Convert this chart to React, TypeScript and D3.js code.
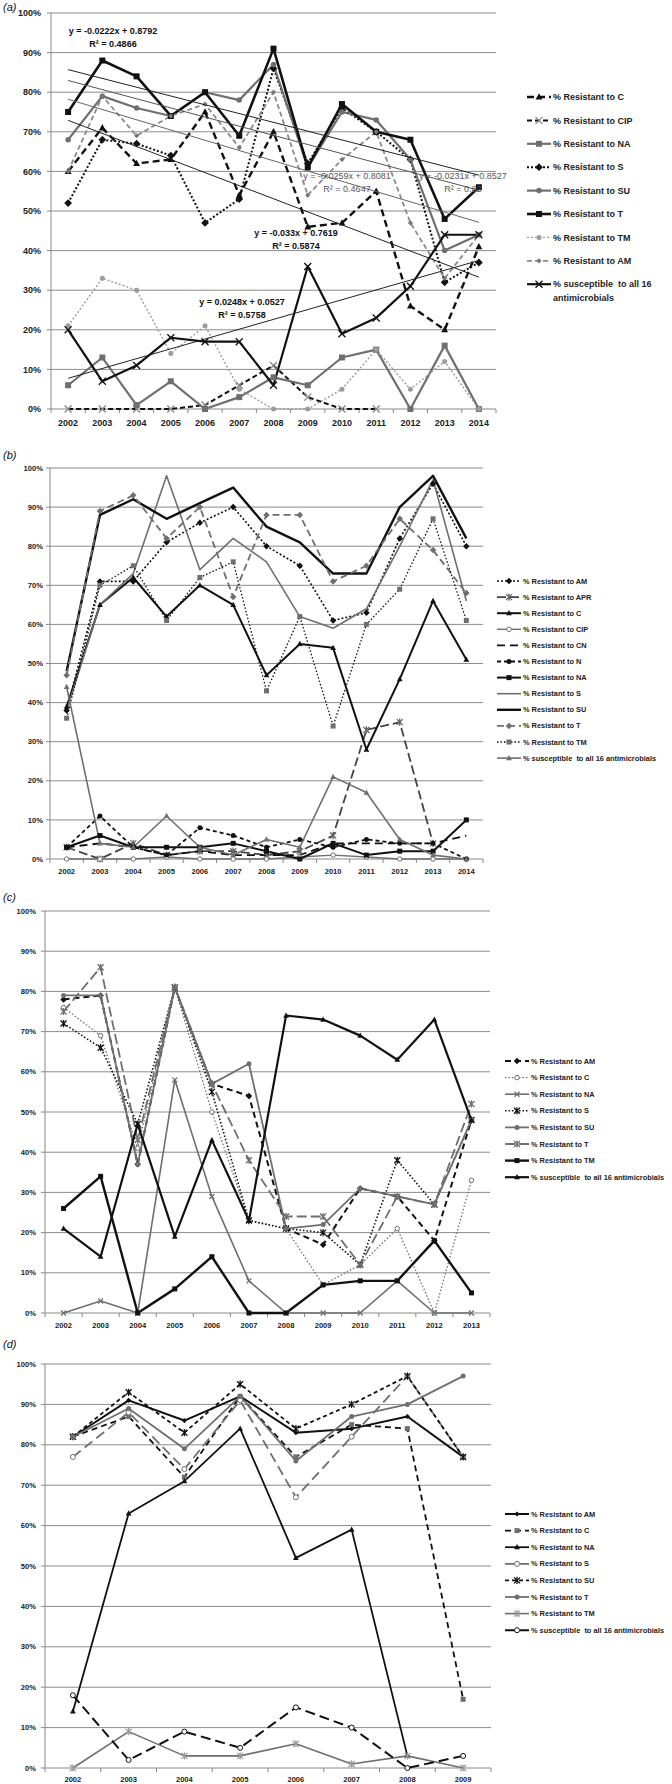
import React, { useEffect } from 'react'
import * as d3 from 'd3'

type Val = number | null
type Kind = 'square' | 'triangle' | 'diamond' | 'circle' | 'ring' | 'x' | 'asterisk' | 'none'

interface Style {
  color: string
  width: number
  dash?: string
  marker: Kind
  mFill: string
  mSize: number
}

interface Series {
  label: string
  values: Val[]
  style: Style
}

interface Layout {
  tag: string
  tagY: number
  left: number
  right: number
  top: number
  bottom: number
  yLabelX: number
  xLabelY: number
  font: number
  legendX: number
  legendLen: number
  legendY: number
  legendStep: number
  legendFont: number
  wrapAt?: number
}

interface Trend {
  m: number
  b: number
  color: string
}

interface Note {
  lines: string[]
  x: number
  y: number
  color: string
  weight: number
}

// ---------- panel (a) ----------
const yearsA = ['2002', '2003', '2004', '2005', '2006', '2007', '2008', '2009', '2010', '2011', '2012', '2013', '2014']
const labelsA = [
  '% Resistant to C', '% Resistant to CIP', '% Resistant to NA', '% Resistant to S', '% Resistant to SU',
  '% Resistant to T', '% Resistant to TM', '% Resistant to AM', '% susceptible  to all 16 antimicrobials'
]
const aResC = [60, 71, 62, 63, 75, 54, 70, 46, 47, 55, 26, 20, 41]
const aResCIP: Val[] = [0, 0, 0, 0, 1, 6, 11, 3, 0, 0, null, null, null]
const aResNA = [6, 13, 1, 7, 0, 3, 8, 6, 13, 15, 0, 16, 0]
const aResS = [52, 68, 67, 64, 47, 53, 86, 62, 76, 70, 63, 32, 37]
const aResSU = [68, 79, 76, 74, 80, 78, 87, 61, 75, 73, 63, 40, 44]
const aResT = [75, 88, 84, 74, 80, 69, 91, 61, 77, 70, 68, 48, 56]
const aResTM = [21, 33, 30, 14, 21, 5, 0, 0, 5, 15, 5, 12, 0]
const aResAM = [60, 79, 69, 74, 77, 66, 80, 54, 63, 70, 47, 33, 44]
const aSusc = [20, 7, 11, 18, 17, 17, 6, 36, 19, 23, 31, 44, 44]

// trend lines: slope, intercept (x = 1..13)
const trendSlopesA = [-0.0222, -0.0231, -0.0259, -0.033, 0.0248]
const trendInterceptsA = [0.8792, 0.8527, 0.8081, 0.7619, 0.0527]
const trendEqA = ['y = -0.0222x + 0.8792', 'y = -0.0231x + 0.8527', 'y = -0.0259x + 0.8081', 'y = -0.033x + 0.7619', 'y = 0.0248x + 0.0527']
const trendR2A = ['R² = 0.4866', 'R² = 0.62', 'R² = 0.4647', 'R² = 0.5874', 'R² = 0.5758']

// ---------- panel (b) ----------
const yearsB = yearsA
const labelsB = [
  '% Resistant to AM', '% Resistant to APR', '% Resistant to C', '% Resistant to CIP', '% Resistant to CN',
  '% Resistant to N', '% Resistant to NA', '% Resistant to S', '% Resistant to SU', '% Resistant to T',
  '% Resistant to TM', '% susceptible  to all 16 antimicrobials'
]
const bResAM = [38, 71, 71, 81, 86, 90, 80, 75, 61, 63, 82, 96, 80]
const bResAPR: Val[] = [3, 0, 4, 1, 2, 2, 1, 2, 6, 33, 35, 4, null]
const bResC = [39, 65, 72, 62, 70, 65, 47, 55, 54, 28, 46, 66, 51]
const bResCIP = [0, 0, 0, 0.5, 0, 0, 0, 0.5, 1, 0.5, 0, 0, 0]
const bResCN = [3, 4, 3, 1, 2, 1, 1, 1, 4, 4, 4, 4, 6]
const bResN = [3, 11, 3, 1, 8, 6, 3, 5, 3, 5, 4, 4, 0]
const bResNA = [3, 6, 3, 3, 3, 4, 2, 0, 4, 1, 2, 2, 10]
const bResS = [38, 65, 73, 98, 74, 82, 76, 62, 59, 64, 80, 97, 66]
const bResSU = [48, 88, 92, 87, 91, 95, 85, 81, 73, 73, 90, 98, 82]
const bResT = [47, 89, 93, 82, 90, 67, 88, 88, 71, 75, 87, 79, 68]
const bResTM = [36, 70, 75, 61, 72, 76, 43, 62, 34, 60, 69, 87, 61]
const bSusc = [44, 4, 3, 11, 3, 1, 5, 3, 21, 17, 5, 1, 0]

// ---------- panel (c) ----------
const yearsC = ['2002', '2003', '2004', '2005', '2006', '2007', '2008', '2009', '2010', '2011', '2012', '2013']
const labelsC = [
  '% Resistant to AM', '% Resistant to C', '% Resistant to NA', '% Resistant to S', '% Resistant to SU',
  '% Resistant to T', '% Resistant to TM', '% susceptible  to all 16 antimicrobials'
]
const cResAM = [78, 79, 37, 81, 57, 54, 21, 17, 31, 29, 18, 48]
const cResC = [76, 69, 41, 81, 50, 23, 21, 7, 12, 21, 0, 33]
const cResNA = [0, 3, 0, 58, 29, 8, 0, 0, 0, 8, 0, 0]
const cResS = [72, 66, 47, 81, 55, 23, 21, 20, 12, 38, 27, 48]
const cResSU = [79, 79, 37, 81, 57, 62, 21, 22, 31, 29, 27, 48]
const cResT = [75, 86, 43, 81, 57, 38, 24, 24, 12, 29, 27, 52]
const cResTM = [26, 34, 0, 6, 14, 0, 0, 7, 8, 8, 18, 5]
const cSusc = [21, 14, 47, 19, 43, 23, 74, 73, 69, 63, 73, 48]

// ---------- panel (d) ----------
const yearsD = ['2002', '2003', '2004', '2005', '2006', '2007', '2008', '2009']
const labelsD = [
  '% Resistant to AM', '% Resistant to C', '% Resistant to NA', '% Resistant to S', '% Resistant to SU',
  '% Resistant to T', '% Resistant to TM', '% susceptible  to all 16 antimicrobials'
]
const dResAM = [82, 91, 86, 92, 83, 84, 87, 77]
const dResC = [82, 87, 72, 92, 77, 85, 84, 17]
const dResNA: Val[] = [14, 63, 71, 84, 52, 59, 3, null]
const dResS = [77, 88, 74, 91, 67, 82, 97, 77]
const dResSU = [82, 93, 83, 95, 84, 90, 97, 77]
const dResT = [82, 89, 79, 92, 76, 87, 90, 97]
const dResTM = [0, 9, 3, 3, 6, 1, 3, 0]
const dSusc = [18, 2, 9, 5, 15, 10, 0, 3]

const yTicks = [0, 10, 20, 30, 40, 50, 60, 70, 80, 90, 100]

const FONT = '"Liberation Sans", Arial, sans-serif'
const BLACK = '#111'
const GRAY = '#6f6f6f'
const LIGHT = '#9c9c9c'

const st = (color: string, width: number, dash: string | undefined, marker: Kind, mFill: string, mSize: number): Style =>
  ({ color, width, dash, marker, mFill, mSize })

const seriesA: Series[] = [
  { label: labelsA[0], values: aResC, style: st(BLACK, 2.4, '7,4', 'triangle', BLACK, 6) },
  { label: labelsA[1], values: aResCIP, style: st(BLACK, 2, '5,3', 'x', '#888', 7) },
  { label: labelsA[2], values: aResNA, style: st(GRAY, 2.2, undefined, 'square', GRAY, 6) },
  { label: labelsA[3], values: aResS, style: st(BLACK, 2, '2,2', 'diamond', BLACK, 6) },
  { label: labelsA[4], values: aResSU, style: st(GRAY, 2.2, undefined, 'circle', GRAY, 5.5) },
  { label: labelsA[5], values: aResT, style: st(BLACK, 2.6, undefined, 'square', BLACK, 6) },
  { label: labelsA[6], values: aResTM, style: st(LIGHT, 1.4, '2,2', 'circle', LIGHT, 5) },
  { label: labelsA[7], values: aResAM, style: st('#8a8a8a', 1.8, '5,3', 'diamond', '#777', 4) },
  { label: labelsA[8], values: aSusc, style: st(BLACK, 2.2, undefined, 'x', BLACK, 7) }
]

const seriesB: Series[] = [
  { label: labelsB[0], values: bResAM, style: st(BLACK, 1.6, '2,2', 'diamond', BLACK, 5) },
  { label: labelsB[1], values: bResAPR, style: st('#444', 1.8, '9,4', 'asterisk', '#666', 6) },
  { label: labelsB[2], values: bResC, style: st(BLACK, 2, undefined, 'triangle', BLACK, 5) },
  { label: labelsB[3], values: bResCIP, style: st(GRAY, 1.4, undefined, 'ring', GRAY, 4.5) },
  { label: labelsB[4], values: bResCN, style: st(BLACK, 1.8, '8,5', 'none', BLACK, 0) },
  { label: labelsB[5], values: bResN, style: st(BLACK, 1.8, '4,3', 'circle', BLACK, 5) },
  { label: labelsB[6], values: bResNA, style: st(BLACK, 2, undefined, 'square', BLACK, 5) },
  { label: labelsB[7], values: bResS, style: st(GRAY, 1.6, undefined, 'none', GRAY, 0) },
  { label: labelsB[8], values: bResSU, style: st(BLACK, 2.4, undefined, 'none', BLACK, 0) },
  { label: labelsB[9], values: bResT, style: st(GRAY, 1.8, '7,4', 'diamond', GRAY, 5) },
  { label: labelsB[10], values: bResTM, style: st(BLACK, 1.3, '1.5,2', 'square', GRAY, 5) },
  { label: labelsB[11], values: bSusc, style: st(GRAY, 1.6, undefined, 'triangle', GRAY, 5) }
]

const seriesC: Series[] = [
  { label: labelsC[0], values: cResAM, style: st(BLACK, 2, '6,4', 'diamond', BLACK, 5) },
  { label: labelsC[1], values: cResC, style: st(GRAY, 1.3, '1.5,2', 'ring', GRAY, 4.5) },
  { label: labelsC[2], values: cResNA, style: st(GRAY, 1.6, undefined, 'x', GRAY, 5) },
  { label: labelsC[3], values: cResS, style: st(BLACK, 1.6, '1.5,2', 'asterisk', BLACK, 6) },
  { label: labelsC[4], values: cResSU, style: st(GRAY, 1.8, undefined, 'circle', GRAY, 5) },
  { label: labelsC[5], values: cResT, style: st(GRAY, 1.8, '10,4', 'asterisk', GRAY, 6) },
  { label: labelsC[6], values: cResTM, style: st(BLACK, 2.4, undefined, 'square', BLACK, 5) },
  { label: labelsC[7], values: cSusc, style: st(BLACK, 2.2, undefined, 'triangle', BLACK, 5) }
]

const seriesD: Series[] = [
  { label: labelsD[0], values: dResAM, style: st(BLACK, 2, undefined, 'diamond', BLACK, 4) },
  { label: labelsD[1], values: dResC, style: st(BLACK, 1.8, '6,4', 'square', GRAY, 5) },
  { label: labelsD[2], values: dResNA, style: st(BLACK, 1.8, undefined, 'triangle', BLACK, 5) },
  { label: labelsD[3], values: dResS, style: st(GRAY, 1.8, '10,5', 'ring', GRAY, 5) },
  { label: labelsD[4], values: dResSU, style: st(BLACK, 1.8, '4,3', 'asterisk', BLACK, 6) },
  { label: labelsD[5], values: dResT, style: st(GRAY, 1.8, undefined, 'circle', GRAY, 5) },
  { label: labelsD[6], values: dResTM, style: st(GRAY, 1.6, undefined, 'asterisk', LIGHT, 6) },
  { label: labelsD[7], values: dSusc, style: st(BLACK, 2, '10,5', 'ring', BLACK, 5) }
]

const trendColorsA = ['#222', '#555', '#666', '#222', '#222']
const trendsA: Trend[] = trendSlopesA.map((m, i) => ({ m, b: trendInterceptsA[i], color: trendColorsA[i] }))

const notesA: Note[] = [
  { lines: [trendEqA[0], trendR2A[0]], x: 113, y: 31, color: BLACK, weight: 700 },
  { lines: [trendEqA[1], trendR2A[1]], x: 463, y: 176, color: '#555', weight: 400 },
  { lines: [trendEqA[2], trendR2A[2]], x: 347, y: 176, color: '#555', weight: 400 },
  { lines: [trendEqA[3], trendR2A[3]], x: 296, y: 233, color: BLACK, weight: 700 },
  { lines: [trendEqA[4], trendR2A[4]], x: 242, y: 302, color: BLACK, weight: 700 }
]

const layoutA: Layout = {
  tag: 'a', tagY: 11, left: 51, right: 496, top: 13, bottom: 409, yLabelX: 41, xLabelY: 423, font: 9,
  legendX: 527, legendLen: 24, legendY: 97, legendStep: 23.4, legendFont: 9, wrapAt: 26
}
const layoutB: Layout = {
  tag: 'b', tagY: 459, left: 50, right: 483, top: 468, bottom: 859, yLabelX: 43, xLabelY: 871, font: 7.6,
  legendX: 497, legendLen: 24, legendY: 581, legendStep: 16.1, legendFont: 7.4
}
const layoutC: Layout = {
  tag: 'c', tagY: 901, left: 45, right: 490, top: 911, bottom: 1313, yLabelX: 36, xLabelY: 1325, font: 7.6,
  legendX: 505, legendLen: 24, legendY: 1061, legendStep: 16.6, legendFont: 7.4
}
const layoutD: Layout = {
  tag: 'd', tagY: 1348, left: 45, right: 491, top: 1364, bottom: 1768, yLabelX: 36, xLabelY: 1779, font: 7.6,
  legendX: 505, legendLen: 24, legendY: 1514, legendStep: 16.6, legendFont: 7.4
}

function Mark ({ kind, x, y, size, fill }: { kind: Kind, x: number, y: number, size: number, fill: string }) {
  const h = size / 2
  switch (kind) {
    case 'square':
      return <rect x={x - h} y={y - h} width={size} height={size} fill={fill} />
    case 'triangle':
      return <path d={`M${x},${y - h * 1.25}L${x + h * 1.15},${y + h * 0.85}L${x - h * 1.15},${y + h * 0.85}Z`} fill={fill} />
    case 'diamond':
      return <path d={`M${x},${y - h * 1.3}L${x + h * 1.3},${y}L${x},${y + h * 1.3}L${x - h * 1.3},${y}Z`} fill={fill} />
    case 'circle':
      return <circle cx={x} cy={y} r={h} fill={fill} />
    case 'ring':
      return <circle cx={x} cy={y} r={h} fill="#fff" stroke={fill} strokeWidth={1} />
    case 'x':
      return <path d={`M${x - h},${y - h}L${x + h},${y + h}M${x - h},${y + h}L${x + h},${y - h}`} stroke={fill} strokeWidth={1.3} fill="none" />
    case 'asterisk':
      return <path d={`M${x - h},${y - h}L${x + h},${y + h}M${x - h},${y + h}L${x + h},${y - h}M${x},${y - h * 1.2}L${x},${y + h * 1.2}`} stroke={fill} strokeWidth={1.3} fill="none" />
    default:
      return null
  }
}

function Panel ({ years, series, layout, trends = [], notes = [] }: { years: string[], series: Series[], layout: Layout, trends?: Trend[], notes?: Note[] }) {
  const { left, right, top, bottom, font } = layout
  const x = d3.scaleBand<string>().domain(years).range([left, right])
  const y = d3.scaleLinear().domain([0, 100]).range([bottom, top])
  const cx = (i: number) => (x(years[i]) as number) + x.bandwidth() / 2

  const line = d3.line<Val>()
    .defined(d => d !== null)
    .x((d, i) => cx(i))
    .y(d => y(d as number))

  const bounds = years.map(yr => x(yr) as number).concat([right])

  return (
    <g style={{ fontFamily: FONT }}>
      <text x={3} y={layout.tagY} fontSize={11} fontStyle="italic" fill={BLACK}>
        (<tspan>{layout.tag}</tspan>)
      </text>

      {yTicks.filter(t => t > 0).map(t => (
        <line key={t} x1={left} x2={right} y1={y(t)} y2={y(t)} stroke="#8c8c8c" strokeWidth={1} />
      ))}
      {yTicks.map(t => (
        <g key={'yl' + t}>
          <line x1={left - 4} x2={left} y1={y(t)} y2={y(t)} stroke="#888" />
          <text x={layout.yLabelX} y={y(t)} dy="0.35em" textAnchor="end" fontSize={font} fontWeight={700} fill="#222">{t}%</text>
        </g>
      ))}
      <line x1={left} x2={left} y1={top} y2={bottom} stroke="#888" />
      <line x1={left} x2={right} y1={bottom} y2={bottom} stroke="#888" />
      {bounds.map((b, i) => (
        <line key={'xt' + i} x1={b} x2={b} y1={bottom} y2={bottom + 4} stroke="#888" />
      ))}
      {years.map((yr, i) => (
        <text key={yr} x={cx(i)} y={layout.xLabelY} dy="0.35em" textAnchor="middle" fontSize={font} fontWeight={700} fill="#222">{yr}</text>
      ))}

      {series.map(s => (
        <path key={s.label} d={line(s.values) || ''} fill="none" stroke={s.style.color}
          strokeWidth={s.style.width} strokeDasharray={s.style.dash} strokeLinejoin="round" />
      ))}
      {series.map(s => s.values.map((v, i) => v === null ? null : (
        <Mark key={s.label + i} kind={s.style.marker} x={cx(i)} y={y(v)} size={s.style.mSize} fill={s.style.mFill} />
      )))}

      {trends.map((t, i) => {
        const n = years.length
        return <line key={'tr' + i} x1={cx(0)} x2={cx(n - 1)} y1={y((t.m * 1 + t.b) * 100)} y2={y((t.m * n + t.b) * 100)}
          stroke={t.color} strokeWidth={1} />
      })}
      {notes.map((nt, i) => (
        <text key={'nt' + i} x={nt.x} y={nt.y} textAnchor="middle" fontSize={9} fontWeight={nt.weight} fill={nt.color}>
          {nt.lines.map((l, j) => <tspan key={j} x={nt.x} dy={j === 0 ? '0.35em' : 13}>{l}</tspan>)}
        </text>
      ))}

      {series.map((s, i) => {
        const ly = layout.legendY + i * layout.legendStep
        const x0 = layout.legendX
        const x1 = x0 + layout.legendLen
        let parts = [s.label]
        if (layout.wrapAt && s.label.length > layout.wrapAt) {
          const cut = s.label.lastIndexOf(' ', layout.wrapAt)
          parts = [s.label.slice(0, cut), s.label.slice(cut + 1)]
        }
        return (
          <g key={'lg' + i}>
            <line x1={x0} x2={x1} y1={ly} y2={ly} stroke={s.style.color} strokeWidth={s.style.width} strokeDasharray={s.style.dash} />
            <Mark kind={s.style.marker} x={(x0 + x1) / 2} y={ly} size={s.style.mSize} fill={s.style.mFill} />
            <text x={x1 + 2} y={ly} fontSize={layout.legendFont} fontWeight={700} fill="#222" style={{ whiteSpace: 'pre' }}>
              {parts.map((p, j) => <tspan key={j} x={x1 + 2} dy={j === 0 ? '0.35em' : layout.legendFont * 1.55}>{p}</tspan>)}
            </text>
          </g>
        )
      })}
    </g>
  )
}

export default function App () {
  useEffect(() => {
    document.body.style.margin = '0'
  }, [])

  return (
    <svg width={672} height={1784} style={{ display: 'block', background: '#fff' }}>
      <rect width={672} height={1784} fill="#fff" />
      <Panel years={yearsA} series={seriesA} layout={layoutA} trends={trendsA} notes={notesA} />
      <Panel years={yearsB} series={seriesB} layout={layoutB} />
      <Panel years={yearsC} series={seriesC} layout={layoutC} />
      <Panel years={yearsD} series={seriesD} layout={layoutD} />
    </svg>
  )
}
